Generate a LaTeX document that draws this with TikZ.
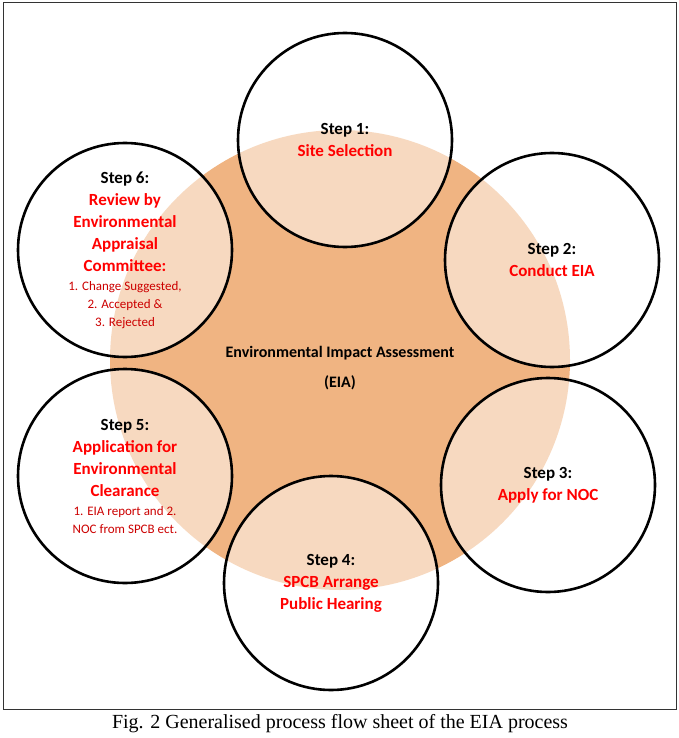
\documentclass[tikz,border=0pt]{standalone}
\usepackage{fontspec}
\setmainfont{Carlito}
\newfontfamily\capfont{Liberation Serif}
\definecolor{eiaorange}{RGB}{240,180,130}
\begin{document}
\begin{tikzpicture}[x=1pt,y=-1pt,
  stepcircle/.style={circle, draw=black, line width=2.6pt, fill=white, fill opacity=0.5,
    text opacity=1, minimum size=214pt, inner sep=0pt, align=center, font=\bfseries\fontsize{17}{22}\selectfont},
  hl/.style={text=red}]
       \useasboundingbox (0,0) rectangle (678,738);
       \draw[line width=1pt, draw=black!80] (3,3) rectangle (676,709);
       \node[circle, fill=eiaorange, minimum size=460pt, inner sep=0pt] (eia) at (340,360) {};
       \node[align=center, font=\bfseries\fontsize{16}{30}\selectfont] (eiatext) at (340,368) {Environmental Impact Assessment\\(EIA)};
       % the six steps
       \node[stepcircle] (s1) at (345,140) {Step 1:\\ \textcolor{red}{Site Selection}};
       \node[stepcircle] (s2) at (552,260) {Step 2:\\ \textcolor{red}{Conduct EIA}};
       \node[stepcircle] (s3) at (548,485) {Step 3:\\ \textcolor{red}{Apply for NOC}};
       \node[stepcircle] (s4) at (331,583) {Step 4:\\ \textcolor{red}{SPCB Arrange}\\ \textcolor{red}{Public Hearing}};
       \node[stepcircle] (s5) at (125,476) {Step 5:\\ \textcolor{red}{Application for}\\ \textcolor{red}{Environmental}\\ \textcolor{red}{Clearance}\\[-3pt]
         {\mdseries\fontsize{13}{16}\selectfont\textcolor{red!80!black}{1. EIA report and 2.}}\\[-4pt]
         {\mdseries\fontsize{13}{16}\selectfont\textcolor{red!80!black}{NOC from SPCB ect.}}};
       \node[stepcircle] (s6) at (125,250) {Step 6:\\ \textcolor{red}{Review by}\\ \textcolor{red}{Environmental}\\ \textcolor{red}{Appraisal}\\ \textcolor{red}{Committee:}\\[-3pt]
         {\mdseries\fontsize{13}{16}\selectfont\textcolor{red!80!black}{1. Change Suggested,}}\\[-4pt]
         {\mdseries\fontsize{13}{16}\selectfont\textcolor{red!80!black}{2. Accepted \&}}\\[-4pt]
         {\mdseries\fontsize{13}{16}\selectfont\textcolor{red!80!black}{3. Rejected}}};
       \node[font=\capfont\fontsize{20}{22}\selectfont] (caption) at (340,724) {Fig. 2 Generalised process flow sheet of the EIA process};
\end{tikzpicture}
\end{document}
